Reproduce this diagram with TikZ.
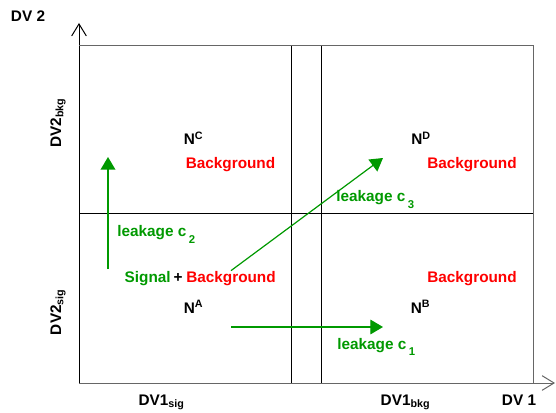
\documentclass[tikz,border=0pt]{standalone}
\usepackage{fontspec}
\setmainfont{Liberation Sans}
\usetikzlibrary{arrows.meta}

\definecolor{leakgreen}{RGB}{0,153,0}
\definecolor{bkgred}{RGB}{255,0,0}

\newcommand{\leaksub}[1]{\raisebox{-5pt}{\fontsize{8.5}{8.5}\selectfont #1}}

\tikzset{
    lbl/.style={font=\bfseries\fontsize{11.5}{13}\selectfont, inner sep=0pt},
    bkg/.style={lbl, text=bkgred},
    leak/.style={lbl, text=leakgreen},
    leakarrow/.style={draw=leakgreen, line width=0.9pt, -{Triangle[length=9.5pt, width=11pt]}},
    axis/.style={line width=0.75pt, -{Straight Barb[length=9pt, width=11pt]}},
}

\begin{document}
\begin{tikzpicture}[x=0.75pt, y=-0.75pt]
    \useasboundingbox (0,0) rectangle (556,413);

    % axes
    \coordinate (O) at (79,383);
    \draw[axis] (O) -- (79,23);
    \draw[axis, gray!80!black] (O) -- (555,383);

    % frame and cuts
    \draw[gray!80!black, line width=0.75pt] (79,46) -- (533,46) -- (533,383);
    \draw[line width=0.75pt] (79,214) -- (533,214);
    \draw[line width=0.75pt] (291,46) -- (291,383);
    \draw[line width=0.75pt] (321,46) -- (321,383);

    % axis labels
    \node[lbl] (dv2) at (28,16) {DV 2};
    \node[lbl, rotate=90] (dv2bkg) at (58,123) {DV2\textsubscript{bkg}};
    \node[lbl, rotate=90] (dv2sig) at (58,312) {DV2\textsubscript{sig}};
    \node[lbl, anchor=base] (dv1sig) at (161.5,405) {DV1\textsubscript{sig}};
    \node[lbl, anchor=base] (dv1bkg) at (405.5,405) {DV1\textsubscript{bkg}};
    \node[lbl, anchor=base] (dv1) at (519,405) {DV 1};

    % regions
    \node[lbl, anchor=base] (nC) at (193.5,145) {N\textsuperscript{C}};
    \node[bkg, anchor=base] (bkgC) at (230.5,169) {Background};
    \node[lbl, anchor=base] (nD) at (421,145) {N\textsuperscript{D}};
    \node[bkg, anchor=base] (bkgD) at (472,169) {Background};

    \node[leak, anchor=base east] (sig) at (171,282) {Signal};
    \node[lbl, anchor=base] (plus) at (178,282) {+};
    \node[bkg, anchor=base west] (bkgA) at (186,282) {Background};
    \node[bkg, anchor=base] (bkgB) at (472,282) {Background};
    \node[lbl, anchor=base] (nA) at (193.5,313) {N\textsuperscript{A}};
    \node[lbl, anchor=base] (nB) at (420.5,313) {N\textsuperscript{B}};

    % leakage
    \coordinate (c2start) at (108,269);
    \coordinate (c2end) at (108,157);
    \coordinate (c3end) at (383,158);
    \coordinate (c1start) at (231,327);
    \coordinate (c1end) at (383,327);

    \draw[leakarrow, line width=1.1pt] (c2start) -- (c2end);
    \draw[leakarrow] (bkgA.north) -- (c3end);
    \draw[leakarrow] (c1start) -- (c1end);

    \node[leak, anchor=base west] (c2) at (117,237) {leakage c\,\leaksub{2}};
    \node[leak, anchor=base west] (c3) at (336,202) {leakage c\,\leaksub{3}};
    \node[leak, anchor=base west] (c1) at (337,349) {leakage c\,\leaksub{1}};
\end{tikzpicture}
\end{document}
